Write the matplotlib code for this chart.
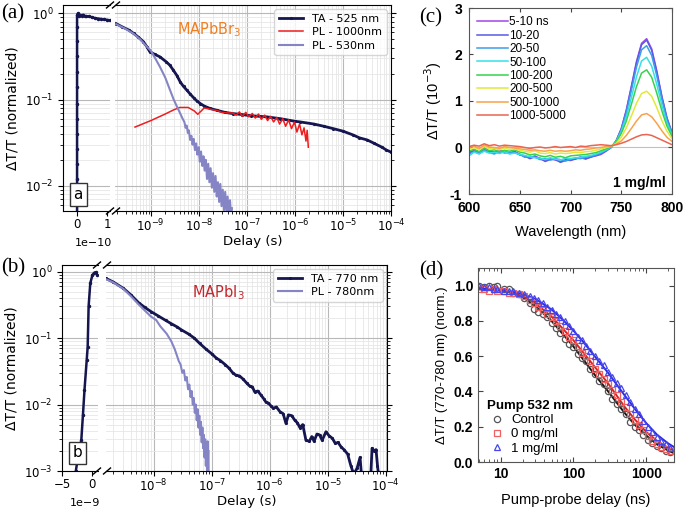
import numpy as np
import matplotlib
matplotlib.use('Agg')
import matplotlib.pyplot as plt
from matplotlib.lines import Line2D
from matplotlib.ticker import FixedLocator, FixedFormatter, LogLocator, NullFormatter

# ---------------- panel (a): MAPbBr3 ----------------
ta525_early_t = [0.0, 0.0, 0.0, 0.0, 0.0, 0.0, 0.0, 0.0, 0.0, 0.0, 0.0, 0.0, 0.0, 0.0, 0.0,
                 0.03e-10, 0.06e-10, 0.1e-10, 0.15e-10, 0.2e-10, 0.25e-10, 0.3e-10, 0.4e-10, 0.5e-10,
                 0.6e-10, 0.7e-10, 0.8e-10, 0.9e-10, 1.0e-10, 1.1e-10]
ta525_early_y = [0.004, 0.006, 0.0085, 0.012, 0.018, 0.027, 0.04, 0.06, 0.09, 0.14, 0.21, 0.32, 0.48, 0.7, 0.95,
                 1.0, 0.92, 0.95, 0.94, 0.96, 0.93, 0.92, 0.92, 0.90, 0.88, 0.87, 0.86, 0.85, 0.84, 0.83]
ta525_t = [1.9e-10, 2.5e-10, 3.5e-10, 4.4e-10, 5.5e-10, 7e-10, 8.3e-10, 9.5e-10, 1.2e-9, 1.55e-9,
           2.1e-9, 2.5e-9, 2.95e-9, 3.5e-9, 4.1e-9, 4.8e-9, 5.6e-9, 6.6e-9, 7.8e-9, 9e-9,
           1.07e-8, 1.3e-8, 1.7e-8, 2.4e-8, 3.5e-8, 5.2e-8, 8e-8, 1.2e-7, 2.6e-7, 5e-7,
           1e-6, 1.3e-6, 2.5e-6, 4e-6, 6.3e-6, 1e-5, 1.6e-5, 2.2e-5, 3.2e-5, 4.5e-5,
           6.5e-5, 8e-5, 1e-4]
ta525_y = [0.76, 0.70, 0.64, 0.585, 0.53, 0.47, 0.41, 0.36, 0.335, 0.313,
           0.274, 0.25, 0.219, 0.19, 0.16, 0.142, 0.129, 0.116, 0.105, 0.097,
           0.09, 0.084, 0.079, 0.075, 0.071, 0.0687, 0.067, 0.065, 0.063, 0.060,
           0.056, 0.055, 0.052, 0.049, 0.046, 0.043, 0.039, 0.036, 0.034, 0.031,
           0.028, 0.026, 0.0246]
pl1000_ns = [0.47, 1, 2, 3, 4, 6, 8, 9.5, 11, 13,
             16, 20, 25, 30, 40, 50, 60, 70, 80, 95,
             110, 130, 150, 175, 200, 235, 270, 310, 360, 420,
             480, 560, 640, 740, 850, 980, 1100, 1250, 1400, 1550,
             1700, 1800, 1900]
pl1000_y = [0.048, 0.057, 0.068, 0.076, 0.081, 0.081, 0.074, 0.0675, 0.073, 0.080,
            0.078, 0.076, 0.074, 0.071, 0.070, 0.070, 0.066, 0.072, 0.064, 0.071,
            0.063, 0.069, 0.061, 0.068, 0.059, 0.066, 0.057, 0.064, 0.055, 0.062,
            0.052, 0.060, 0.049, 0.058, 0.046, 0.055, 0.042, 0.052, 0.039, 0.047,
            0.033, 0.044, 0.028]
pl530_ns = [0.19, 0.3, 0.44, 0.6, 0.83, 1.0, 1.2, 1.55, 2.0, 2.5, 3.0, 3.5, 4.1, 4.6,
            5.0, 5.3, 5.6, 5.9, 6.2, 6.6, 7.0, 7.4, 7.8, 8.3,
            8.8, 9.3, 9.9, 10.5, 11.1, 11.8, 12.5, 13.2, 14.0, 14.8,
            15.7, 16.6, 17.6, 18.7, 19.8, 21, 22.3, 23.6, 25, 26.5,
            28, 29.7, 31.5, 33.4, 35.4, 37.5, 39.7, 42, 44.5, 47, 49]
pl530_y = [0.75, 0.66, 0.58, 0.50, 0.41, 0.37, 0.31, 0.24, 0.18, 0.13, 0.10, 0.083, 0.069, 0.060,
           0.055, 0.047, 0.050, 0.041, 0.044, 0.034, 0.038, 0.030, 0.035, 0.026,
           0.031, 0.023, 0.028, 0.019, 0.025, 0.017, 0.022, 0.015, 0.020, 0.012,
           0.018, 0.011, 0.016, 0.0095, 0.014, 0.0085, 0.013, 0.0075, 0.011, 0.0065,
           0.0105, 0.0058, 0.009, 0.0052, 0.0085, 0.005, 0.0075, 0.0045, 0.0068, 0.0045, 0.0055]
a_decades = [1e-9, 1e-8, 1e-7, 1e-6, 1e-5, 1e-4]

# ---------------- panel (b): MAPbI3 ----------------
ta770_early_ns = [-2.9, -2.66, -2.2, -1.73, -1.45, -1.19, -0.81, -0.65, -0.49, -0.21, 0.16, 0.5, 0.75, 1.0]
ta770_early_y = [0.0006, 0.001, 0.0018, 0.0029, 0.007, 0.0165, 0.047, 0.074, 0.30, 0.67, 0.89, 0.97, 0.98, 0.90]
ta770_ns = [1.5, 2, 3, 4, 5.5, 7, 9, 12, 16, 20,
            25, 30, 40, 50, 62, 80, 100, 120, 140, 170,
            200, 230, 260, 300, 350, 400, 450, 500, 550, 620,
            700, 800, 850, 950, 1050, 1150, 1300, 1500, 1700, 1900,
            2100, 2400, 2700, 3000, 3300, 3700, 4200, 4800, 5300, 5800,
            6500, 7200, 8000, 9300, 10500, 12000, 13500, 15000, 17000, 19000,
            22000, 25000, 28000, 32000, 36000, 38000, 45000, 55000, 58000, 63000,
            68000, 72000, 76000]
ta770_y = [0.79, 0.70, 0.56, 0.45, 0.34, 0.29, 0.25, 0.215, 0.185, 0.165,
           0.148, 0.133, 0.115, 0.10, 0.083, 0.068, 0.058, 0.050, 0.046, 0.040,
           0.035, 0.030, 0.0277, 0.027, 0.024, 0.021, 0.019, 0.0185, 0.0155, 0.016,
           0.014, 0.012, 0.011, 0.0105, 0.0095, 0.0088, 0.0092, 0.0078, 0.0073, 0.0052,
           0.0070, 0.0068, 0.0058, 0.0053, 0.0045, 0.0050, 0.0029, 0.0028, 0.0033, 0.0028,
           0.0036, 0.0035, 0.0029, 0.0039, 0.0034, 0.0031, 0.0026, 0.0027, 0.0023, 0.0021,
           0.0018, 0.0012, 0.0009, 0.0011, 0.0016, 0.0009, 0.0006, 0.0008, 0.0022, 0.0020,
           0.0021, 0.0012, 0.0008]
pl780_ns = [1.5, 2, 3, 4, 5.5, 7, 9, 11, 13, 16.6,
            20, 23, 25, 27, 29, 31, 33, 35, 37, 39,
            41, 43, 45, 47, 49, 51, 53, 55, 57, 59,
            61, 63, 65, 67, 69, 71, 73, 75, 77, 79,
            81, 83, 85, 87, 88]
pl780_y = [0.77, 0.69, 0.55, 0.43, 0.32, 0.26, 0.21, 0.187, 0.15, 0.117,
           0.09, 0.068, 0.055, 0.045, 0.040, 0.030, 0.033, 0.023, 0.026, 0.017,
           0.020, 0.013, 0.016, 0.010, 0.0125, 0.0075, 0.010, 0.0058, 0.0085, 0.0045,
           0.0068, 0.0035, 0.0055, 0.0027, 0.0045, 0.0022, 0.0035, 0.0016, 0.0030, 0.0012,
           0.0024, 0.0009, 0.0028, 0.0008, 0.002]
b_decades = [1e-8, 1e-7, 1e-6, 1e-5, 1e-4]

# ---------------- panel (c): spectra ----------------
wavelength = [600, 605, 610, 615, 620, 625, 630, 635, 640, 645, 650, 655, 660, 665,
              670, 675, 680, 685, 690, 695, 700, 705, 710, 715, 720, 725, 730, 735,
              740, 745, 750, 755, 760, 765, 770, 775, 780, 785, 790, 795, 800]
spec_labels = ['5-10 ns', '10-20', '20-50', '50-100', '100-200', '200-500', '500-1000', '1000-5000']
spec_colors = ['#a046e6', '#5a5ae8', '#3a9ee8', '#36e0e6', '#36d24e', '#e2e83a', '#f8a24a', '#ea6450']
spec_5_10 = [-0.12, -0.05, -0.10, 0.00, -0.08, -0.12, -0.06, -0.10, -0.12, -0.08, -0.15, -0.20, -0.22, -0.18,
             -0.25, -0.28, -0.24, -0.27, -0.30, -0.26, -0.28, -0.24, -0.22, -0.25, -0.20, -0.18, -0.15, -0.08,
             0.00, 0.15, 0.40, 0.81, 1.32, 1.85, 2.24, 2.34, 2.12, 1.65, 1.10, 0.64, 0.32]
spec_10_20 = [-0.10, -0.08, -0.13, -0.04, -0.10, -0.09, -0.12, -0.08, -0.13, -0.10, -0.16, -0.18, -0.24, -0.20,
              -0.23, -0.30, -0.26, -0.25, -0.32, -0.28, -0.27, -0.25, -0.20, -0.24, -0.21, -0.17, -0.13, -0.07,
              0.00, 0.14, 0.40, 0.79, 1.30, 1.82, 2.21, 2.31, 2.09, 1.62, 1.09, 0.63, 0.31]
spec_20_50 = [-0.15, -0.09, -0.12, -0.06, -0.11, -0.14, -0.08, -0.12, -0.10, -0.11, -0.14, -0.21, -0.19, -0.21,
              -0.26, -0.24, -0.27, -0.24, -0.26, -0.29, -0.25, -0.23, -0.24, -0.21, -0.19, -0.16, -0.12, -0.06,
              0.00, 0.13, 0.38, 0.75, 1.23, 1.73, 2.10, 2.19, 1.98, 1.54, 1.03, 0.60, 0.30]
spec_50_100 = [-0.18, -0.10, -0.14, -0.08, -0.12, -0.10, -0.13, -0.09, -0.14, -0.12, -0.15, -0.17, -0.20, -0.22,
               -0.23, -0.26, -0.22, -0.25, -0.27, -0.23, -0.24, -0.22, -0.21, -0.19, -0.17, -0.14, -0.10, -0.05,
               0.01, 0.13, 0.34, 0.66, 1.08, 1.52, 1.86, 1.94, 1.75, 1.36, 0.91, 0.53, 0.27]
spec_100_200 = [-0.08, -0.04, -0.09, -0.02, -0.07, -0.05, -0.09, -0.06, -0.08, -0.05, -0.10, -0.12, -0.16, -0.14,
                -0.18, -0.20, -0.17, -0.21, -0.19, -0.22, -0.18, -0.17, -0.16, -0.15, -0.13, -0.11, -0.07, -0.03,
                0.02, 0.12, 0.30, 0.57, 0.93, 1.31, 1.60, 1.67, 1.51, 1.17, 0.79, 0.46, 0.24]
spec_200_500 = [-0.04, 0.00, -0.05, 0.02, -0.03, -0.02, -0.05, -0.01, -0.04, -0.03, -0.06, -0.08, -0.10, -0.07,
                -0.12, -0.13, -0.11, -0.14, -0.12, -0.13, -0.12, -0.10, -0.11, -0.09, -0.08, -0.06, -0.03, 0.00,
                0.03, 0.09, 0.22, 0.42, 0.68, 0.95, 1.16, 1.21, 1.10, 0.86, 0.58, 0.35, 0.19]
spec_500_1000 = [0.00, 0.03, -0.02, 0.05, 0.01, 0.00, -0.02, 0.02, 0.00, -0.01, -0.03, -0.04, -0.06, -0.05,
                 -0.07, -0.08, -0.06, -0.08, -0.07, -0.08, -0.07, -0.05, -0.06, -0.04, -0.03, -0.01, 0.00, 0.02,
                 0.03, 0.07, 0.14, 0.26, 0.41, 0.57, 0.70, 0.73, 0.66, 0.52, 0.36, 0.22, 0.13]
spec_1000_5000 = [0.02, 0.05, 0.03, 0.08, 0.04, 0.06, 0.03, 0.05, 0.04, 0.03, 0.02, 0.00, -0.02, 0.00,
                  0.01, -0.01, 0.00, 0.02, 0.00, 0.01, 0.02, 0.00, 0.03, 0.02, 0.04, 0.05, 0.06, 0.05,
                  0.04, 0.06, 0.09, 0.13, 0.18, 0.23, 0.27, 0.28, 0.26, 0.21, 0.16, 0.11, 0.06]
spectra = [spec_5_10, spec_10_20, spec_20_50, spec_50_100, spec_100_200, spec_200_500, spec_500_1000, spec_1000_5000]

# ---------------- panel (d): kinetics ----------------
delay_ns = [5, 6, 7, 8, 9, 11, 13, 15, 18, 21, 25, 29, 33, 38, 44, 50, 58, 66, 76, 87,
            100, 115, 130, 150, 170, 195, 225, 260, 300, 340, 390, 450, 520, 600, 690, 790, 910,
            1050, 1200, 1400, 1600, 1850, 2100]
control = [1.0, 0.99, 1.0, 0.99, 1.0, 0.98, 0.98, 0.96, 0.95, 0.93, 0.90, 0.87, 0.85, 0.84, 0.82, 0.79,
           0.76, 0.73, 0.70, 0.67, 0.65, 0.61, 0.59, 0.57, 0.53, 0.50, 0.46, 0.44, 0.40, 0.36, 0.33,
           0.30, 0.27, 0.225, 0.20, 0.18, 0.155, 0.125, 0.105, 0.09, 0.08, 0.065, 0.055]
mg0 = [0.98, 0.98, 0.97, 0.98, 0.97, 0.97, 0.96, 0.96, 0.95, 0.94, 0.92, 0.90, 0.88, 0.86, 0.84, 0.82,
       0.80, 0.77, 0.74, 0.71, 0.69, 0.66, 0.62, 0.60, 0.57, 0.53, 0.50, 0.47, 0.44, 0.41, 0.38,
       0.34, 0.31, 0.27, 0.24, 0.21, 0.18, 0.15, 0.12, 0.10, 0.085, 0.075, 0.065]
mg1 = [1.0, 0.99, 0.99, 0.98, 0.98, 0.97, 0.97, 0.97, 0.96, 0.95, 0.94, 0.93, 0.92, 0.90, 0.88, 0.86,
       0.84, 0.82, 0.80, 0.77, 0.74, 0.71, 0.69, 0.66, 0.63, 0.60, 0.57, 0.55, 0.51, 0.48, 0.45,
       0.42, 0.38, 0.34, 0.30, 0.27, 0.23, 0.20, 0.17, 0.14, 0.12, 0.10, 0.08]
fit_ns = [5, 7, 10, 14, 20, 30, 50, 70, 100, 140, 200, 300, 500, 700, 1000, 1400, 2000, 2400]
fit_control = [0.985, 0.98, 0.975, 0.96, 0.935, 0.885, 0.80, 0.73, 0.655, 0.575, 0.49, 0.40, 0.28, 0.21,
               0.15, 0.10, 0.065, 0.05]
fit_mg0 = [0.98, 0.975, 0.97, 0.96, 0.94, 0.90, 0.825, 0.76, 0.69, 0.615, 0.535, 0.445, 0.315, 0.24,
           0.17, 0.12, 0.08, 0.065]
fit_mg1 = [0.985, 0.98, 0.975, 0.967, 0.952, 0.925, 0.865, 0.81, 0.745, 0.675, 0.595, 0.505, 0.38, 0.30,
           0.22, 0.155, 0.105, 0.085]

NAVY = '#15154f'
LILAC = '#8585c6'
RED = '#ee1c1c'
SANS = 'Liberation Sans'

fig = plt.figure(figsize=(6.85, 5.11), dpi=100)


def px_axes(x0, y0, x1, y1):
    return fig.add_axes([x0 / 685, 1 - y1 / 511, (x1 - x0) / 685, (y1 - y0) / 511])


def broken_pair(axL, axR, ylim, decades):
    for ax in (axL, axR):
        ax.set_yscale('log')
        ax.set_ylim(*ylim)
        ax.yaxis.set_major_locator(LogLocator(base=10, numticks=10))
        ax.yaxis.set_minor_locator(LogLocator(base=10, subs=np.arange(2, 10), numticks=100))
        ax.yaxis.set_minor_formatter(NullFormatter())
        ax.tick_params(which='both', labelsize=8.5)
        ax.tick_params(axis='x', pad=1.5)
        ax.set_axisbelow(True)
    axL.grid(True, which='major', axis='y', color='#b8b8b8', lw=0.8)
    axL.grid(True, which='minor', axis='y', color='#e6e6e6', lw=0.6)
    axR.grid(True, which='major', color='#b8b8b8', lw=0.8)
    axR.grid(True, which='minor', color='#e6e6e6', lw=0.6)
    axL.spines['right'].set_visible(False)
    axR.spines['left'].set_visible(False)
    axR.yaxis.tick_right()
    axR.tick_params(axis='y', which='both', labelright=False)
    axR.set_xscale('log')
    axR.xaxis.set_major_locator(FixedLocator(decades))
    axR.xaxis.set_minor_locator(LogLocator(base=10, subs=np.arange(2, 10), numticks=100))
    axR.xaxis.set_minor_formatter(NullFormatter())
    axL.set_ylabel('ΔT/T (normalized)', fontsize=10)
    axR.set_xlabel('Delay (s)', fontsize=9.5, labelpad=0)


def slashes(xs, ys):
    for xc in xs:
        for yc in ys:
            fig.add_artist(Line2D([(xc - 3.5) / 685, (xc + 3.5) / 685],
                                  [1 - (yc + 3) / 511, 1 - (yc - 3) / 511],
                                  color='k', lw=1.0, transform=fig.transFigure))


# ---- (a)
aL = px_axes(63, 5, 110, 211)
aR = px_axes(115, 5, 391, 211)
broken_pair(aL, aR, (5.1e-3, 1.25), a_decades)
aL.plot(ta525_early_t, ta525_early_y, color=NAVY, lw=1.8, marker='.', ms=3)
aL.set_xlim(-0.47e-10, 1.1e-10)
aL.xaxis.set_major_locator(FixedLocator([0, 1e-10]))
aL.xaxis.set_major_formatter(FixedFormatter(['0', '1']))
aL.text(0.64, -0.155, '1e−10', transform=aL.transAxes, ha='center', va='center', fontsize=8)
aL.text(0.32, 0.08, 'a', transform=aL.transAxes, ha='center', va='center', fontsize=11,
        bbox=dict(boxstyle='square,pad=0.25', fc='white', ec='#333333', lw=1))
aR.plot(ta525_t, ta525_y, color=NAVY, lw=2, marker='.', ms=2.5, label='TA - 525 nm')
aR.plot(np.array(pl1000_ns) * 1e-9, pl1000_y, color=RED, lw=1.1, label='PL - 1000nm')
aR.plot(np.array(pl530_ns) * 1e-9, pl530_y, color=LILAC, lw=1.5, label='PL - 530nm')
aR.set_xlim(1.8e-10, 1e-4)
aR.legend(loc='upper right', fontsize=8, labelspacing=0.3, handlelength=2.2, borderaxespad=0.4)
aR.text(0.34, 0.88, 'MAPbBr$_3$', transform=aR.transAxes, ha='center', va='center',
        fontsize=10.5, color='#f07f22')
slashes([110, 116], [5, 211])

# ---- (b)
bL = px_axes(62, 265, 98, 471)
bR = px_axes(106, 265, 387, 471)
broken_pair(bL, bR, (1e-3, 1.26), b_decades)
bL.plot(np.array(ta770_early_ns) * 1e-9, ta770_early_y, color=NAVY, lw=1.8, marker='.', ms=3)
bL.set_xlim(-5e-9, 1.1e-9)
bL.xaxis.set_major_locator(FixedLocator([-5e-9, 0]))
bL.xaxis.set_major_formatter(FixedFormatter(['−5', '0']))
bL.text(0.64, -0.155, '1e−9', transform=bL.transAxes, ha='center', va='center', fontsize=8)
bL.text(0.43, 0.088, 'b', transform=bL.transAxes, ha='center', va='center', fontsize=11,
        bbox=dict(boxstyle='square,pad=0.25', fc='white', ec='#333333', lw=1))
bR.plot(np.array(ta770_ns) * 1e-9, ta770_y, color=NAVY, lw=2, marker='.', ms=2.5, label='TA - 770 nm')
bR.plot(np.array(pl780_ns) * 1e-9, pl780_y, color=LILAC, lw=1.5, label='PL - 780nm')
bR.set_xlim(1.5e-9, 1.05e-4)
bR.legend(loc='upper right', fontsize=8, labelspacing=0.3, handlelength=2.2, borderaxespad=0.4)
bR.text(0.40, 0.865, 'MAPbI$_3$', transform=bR.transAxes, ha='center', va='center',
        fontsize=10.5, color='#c4262c')
slashes([97, 107], [265, 471])

# ---- (c)
c = px_axes(469, 8, 672, 194)
c.axhline(0, color='#c0c0c0', lw=0.8, zorder=0)
for lab, col, vals in zip(spec_labels, spec_colors, spectra):
    c.plot(wavelength, vals, color=col, lw=1.1, label=lab)
c.set_xlim(600, 800)
c.set_ylim(-1, 3)
c.tick_params(direction='in', top=True, right=True, length=3, color='#444444')
c.tick_params(axis='x', pad=5)
c.tick_params(axis='y', pad=5)
c.set_xticks([600, 650, 700, 750, 800])
c.set_xticklabels(['600', '650', '700', '750', '800'], family=SANS, fontweight='bold', fontsize=10)
c.set_yticks([-1, 0, 1, 2, 3])
c.set_yticklabels(['-1', '0', '1', '2', '3'], family=SANS, fontweight='bold', fontsize=10)
c.set_xlabel('Wavelength (nm)', family=SANS, fontsize=10.5, labelpad=7)
c.set_ylabel('ΔT/T (10$^{-3}$)', family=SANS, fontsize=10.5)
for s in c.spines.values():
    s.set_color('#555555')
c.legend(loc='upper left', bbox_to_anchor=(0.0, 1.0), frameon=False,
         prop={'family': SANS, 'size': 8.5}, labelspacing=0.12, handlelength=2.6,
         handletextpad=0.1, borderaxespad=0.3)
c.text(0.97, 0.06, '1 mg/ml', transform=c.transAxes, ha='right', va='center',
       family=SANS, fontweight='bold', fontsize=10)

# ---- (d)
d = px_axes(478, 268, 674, 462)
d.set_xscale('log')
d.plot(fit_ns, fit_control, color='#111111', lw=1.4)
d.plot(fit_ns, fit_mg0, color='#dd2020', lw=1.4)
d.plot(fit_ns, fit_mg1, color='#2a2ae0', lw=1.4)
d.plot(delay_ns, control, 'o', mfc='none', mec='#555555', ms=4.5, mew=0.9, label='Control')
d.plot(delay_ns, mg0, 's', mfc='none', mec='#f06060', ms=4, mew=0.9, label='0 mg/ml')
d.plot(delay_ns, mg1, '^', mfc='none', mec='#4545ee', ms=4.5, mew=0.9, label='1 mg/ml')
d.set_xlim(4.9, 2400)
d.set_ylim(0, 1.1)
d.tick_params(which='both', direction='in', top=True, right=True, color='#444444')
d.tick_params(which='major', length=3.5)
d.tick_params(which='minor', length=2)
d.set_xticks([10, 100, 1000])
d.set_xticklabels(['10', '100', '1000'], family=SANS, fontweight='bold', fontsize=10)
d.xaxis.set_minor_formatter(NullFormatter())
d.set_yticks([0.0, 0.2, 0.4, 0.6, 0.8, 1.0])
d.set_yticklabels(['0.0', '0.2', '0.4', '0.6', '0.8', '1.0'], family=SANS, fontweight='bold', fontsize=10)
d.set_xlabel('Pump-probe delay (ns)', family=SANS, fontsize=10.5, labelpad=9)
d.set_ylabel('ΔT/T (770-780 nm) (norm.)', family=SANS, fontsize=9.5)
for s in d.spines.values():
    s.set_color('#555555')
d.legend(loc='lower left', bbox_to_anchor=(0.0, -0.01), frameon=False, title='Pump 532 nm',
         title_fontproperties={'family': SANS, 'weight': 'bold', 'size': 9.5},
         prop={'family': SANS, 'size': 9.5}, alignment='left', handletextpad=0.3,
         labelspacing=0.15, borderpad=0.2, handlelength=1.5)

# panel letters
for txt, x, y in [('(a)', 1, 14), ('(b)', 1, 268), ('(c)', 419, 18), ('(d)', 419, 271)]:
    fig.text(x / 685, 1 - y / 511, txt, family='Liberation Serif', fontsize=15, va='center', ha='left')

fig.savefig('out.png', dpi=100)
